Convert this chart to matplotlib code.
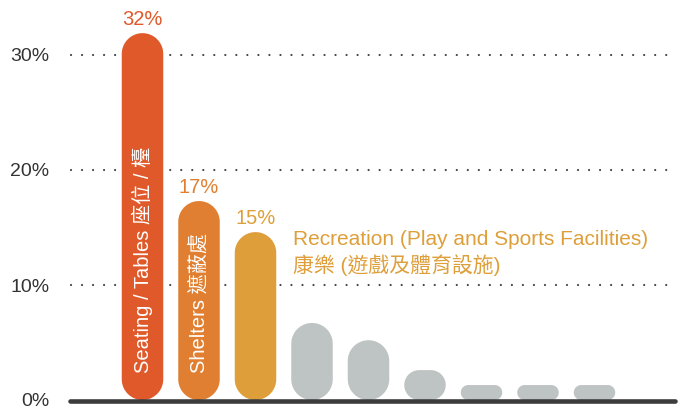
import matplotlib.pyplot as plt
import numpy as np
from matplotlib.patches import Polygon

# data
values = [31.9, 17.3, 14.6, 6.7, 5.2, 2.6, 1.3, 1.3, 1.3]
colors = ['#E0592A', '#E07F31', '#DE9F3A'] + ['#BEC4C3'] * 6
bar_labels = ['Seating / Tables 座位 / 檯', 'Shelters 遮蔽處']
note_en = 'Recreation (Play and Sports Facilities)'
note_zh = '康樂 (遊戲及體育設施)'
y_ticks = [0, 10, 20, 30]
y_ticklabels = ['0%', '10%', '20%', '30%']

fonts = ['Liberation Sans', 'Noto Sans CJK TC', 'DejaVu Sans']
plt.rcParams['font.family'] = fonts

W, H = 681, 409
fig = plt.figure(figsize=(W / 100, H / 100), dpi=100)

# pixel geometry: zero at y=400px, 115px per 10%; bars 56.5px apart, first at 142.5px
px_y = 10 / 115
px_x = 1 / 56.5
left_px, right_px, x0_px = 70, 678, 142.5
ax = fig.add_axes([left_px / W, 0, (right_px - left_px) / W, 1])
ax.set_xlim((left_px - x0_px) * px_x, (right_px - x0_px) * px_x)
ax.set_ylim(-9 * px_y, 400 * px_y)

bar_w = 41.5 * px_x
aspect = px_y / px_x


def stadium(xc, h, w):
    # pill shape with round ends, radius in pixels = min(half width, half height)
    rx = min(w / 2, h / aspect / 2)
    ry = rx * aspect
    t = np.linspace(0, np.pi, 40)
    top = np.column_stack([xc + (w / 2 - rx) * np.sign(np.cos(t)) + rx * np.cos(t),
                           h - ry + ry * np.sin(t)])
    bot = np.column_stack([xc - (w / 2 - rx) * np.sign(np.cos(t)) - rx * np.cos(t),
                           ry - ry * np.sin(t)])
    return np.vstack([top, bot])


for i, (v, c) in enumerate(zip(values, colors)):
    ax.add_patch(Polygon(stadium(i, v, bar_w), closed=True, fc=c, ec='none', zorder=3))

# value labels on the coloured bars
for i in range(3):
    ax.annotate(f'{values[i]:.0f}%', (i, values[i]), xytext=(0, 5.8),
                textcoords='offset points', ha='center', va='baseline',
                fontsize=14.5, color=colors[i], zorder=4)

# labels written inside the bars
for i, lab in enumerate(bar_labels):
    ax.text(i, 27 * px_y, lab, rotation=90, ha='center', va='bottom',
            fontsize=14.5, color='white', zorder=4)

# note next to the third bar
nx = 2 + (293 - 255.5) * px_x
ax.text(nx, (400 - 245) * px_y, note_en, ha='left', va='baseline',
        fontsize=15, color=colors[2])
ax.text(nx, (400 - 272) * px_y, note_zh, ha='left', va='baseline',
        fontsize=15, color=colors[2])

# dotted gridlines
x_lo, x_hi = ax.get_xlim()
for yv in y_ticks[1:]:
    ax.plot([x_lo + 1 * px_x, x_hi - 4 * px_x], [yv, yv], color='#444444', lw=1.6,
            linestyle=(0, (0.01, 4.95)), dash_capstyle='round', zorder=1)

# baseline
ax.plot([(70.3 - x0_px) * px_x, (674.7 - x0_px) * px_x], [-0.06, -0.06],
        color='#3C3C3C', lw=3.3, solid_capstyle='round', zorder=5, clip_on=False)

ax.set_yticks(y_ticks)
ax.set_yticklabels(y_ticklabels, fontsize=14, color='#333333')
ax.tick_params(axis='y', length=0, pad=15)
ax.set_xticks([])
for s in ax.spines.values():
    s.set_visible(False)

fig.savefig('out.png', dpi=100)
